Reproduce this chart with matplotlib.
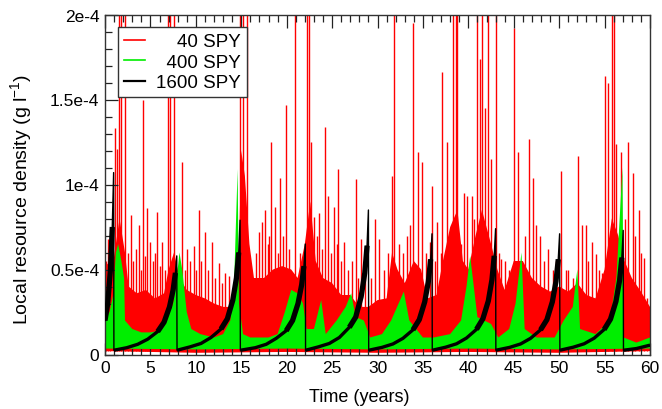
import numpy as np
import matplotlib
matplotlib.use("Agg")
import matplotlib.pyplot as plt
from matplotlib.ticker import MultipleLocator, FixedLocator, FixedFormatter
from matplotlib.lines import Line2D

plt.rcParams['font.family'] = ['Liberation Sans', 'DejaVu Sans']
plt.rcParams['mathtext.fontset'] = 'custom'
plt.rcParams['mathtext.rm'] = 'Liberation Sans'
plt.rcParams['mathtext.default'] = 'regular'

# ---------------- data (values in units of 1e-4 g/l) ----------------
# 40 SPY (red): dense band upper edge, lower edge, and spikes
red_t = [0, 0.8, 1.2, 1.6, 2.2, 2.6, 3.5, 4.5, 5.5, 6.5, 7.0, 7.6, 8.2, 9.0, 10, 11, 12, 13, 14,
         14.7, 15.0, 15.4, 15.9, 16.4, 17.5, 18.5, 19.5, 20.5, 21.2, 22.0, 22.6, 23.2, 24.0, 25.0,
         26.0, 27.0, 28.0, 29.0, 30.0, 31.0, 31.6, 32.2, 33.0, 34.0, 34.8, 35.5, 36.5, 37.2, 38.0,
         38.8, 39.4, 40.0, 40.8, 41.5, 42.5, 43.2, 44.0, 45.0, 46.0, 47.0, 48.0, 49.0, 50.0, 51.0,
         52.0, 53.0, 54.0, 55.0, 55.8, 56.5, 57.2, 58.0, 59.0, 60]
red_hi = [0.55, 0.5, 0.65, 0.8, 0.6, 0.4, 0.36, 0.38, 0.33, 0.36, 0.5, 0.6, 0.45, 0.38, 0.35, 0.33,
          0.3, 0.28, 0.28, 0.5, 1.2, 1.05, 0.65, 0.45, 0.45, 0.5, 0.52, 0.5, 0.45, 0.65, 0.9, 0.55,
          0.45, 0.42, 0.35, 0.35, 0.28, 0.28, 0.32, 0.33, 0.6, 0.5, 0.42, 0.55, 0.5, 0.33, 0.35,
          0.55, 0.75, 0.85, 0.55, 0.5, 0.7, 0.85, 0.65, 0.5, 0.38, 0.55, 0.55, 0.45, 0.4, 0.37, 0.4,
          0.37, 0.42, 0.35, 0.33, 0.5, 0.8, 0.7, 0.55, 0.45, 0.37, 0.28]
red_lo_t = [0, 10, 20, 30, 40, 50, 60]
red_lo = [0.02, 0.01, 0.015, 0.01, 0.015, 0.01, 0.02]
spike_t = [0.3, 0.6, 1.1, 1.28, 1.54, 1.8, 2.17, 2.83, 3.75, 4.15, 4.66, 5.0, 5.76, 6.3, 6.95, 7.15,
           7.6, 8.45, 9.07, 9.8, 10.3, 11.0, 11.75, 12.5, 13.6, 14.9, 15.2, 15.6, 17.25, 17.6, 18.3,
           18.7, 19.3, 19.9, 20.9, 22.2, 22.5, 22.7, 23.05, 23.6, 24.2, 24.6, 25.25, 25.7, 26.35,
           27.6, 28.2, 29.7, 30.2, 31.6, 31.85, 33.6, 33.95, 34.5, 34.9, 35.8, 36.0, 36.6, 37.15,
           37.7, 38.3, 38.6, 38.8, 39.5, 39.9, 40.35, 40.9, 41.3, 41.45, 41.8, 42.2, 42.5, 43.1,
           43.65, 45.05, 45.5, 46.7, 47.1, 47.5, 47.9, 48.8, 50.15, 51.0, 52.1, 52.5, 52.9, 53.6,
           54.0, 55.05, 55.4, 55.8, 56.0, 56.3, 56.8, 57.6, 58.1, 58.8, 59.3,
           0.15, 2.5, 3.1, 3.4, 4.0, 4.4, 5.3, 5.55, 6.1, 6.6, 8.8, 9.4, 10.0, 10.6, 11.3, 12.1,
           12.9, 13.2, 16.6, 16.9, 17.9, 18.0, 19.0, 19.6, 20.3, 21.5, 23.3, 23.9, 24.9, 25.5,
           26.0, 26.7, 27.2, 27.9, 28.6, 29.3, 30.7, 31.2, 32.4, 32.8, 33.3, 35.3, 36.3, 37.0,
           39.2, 40.6, 43.4, 44.0, 44.5, 46.2, 48.3, 49.3, 49.7, 50.7, 51.5, 53.2, 54.4, 54.7,
           57.2, 58.4, 59.0, 59.7]
spike_h = [0.68, 0.62, 1.33, 1.21, 2.05, 2.05, 2.05, 0.82, 0.76, 1.5, 0.86, 0.66, 0.84, 0.66, 2.05,
           2.05, 2.05, 1.13, 0.62, 0.64, 0.85, 0.72, 0.66, 0.54, 0.46, 2.05, 2.05, 2.05, 0.78, 0.85,
           1.25, 0.87, 1.04, 1.47, 2.05, 2.05, 2.05, 1.25, 0.81, 0.83, 1.34, 0.93, 0.87, 1.09, 0.66,
           1.03, 0.68, 0.8, 0.68, 1.05, 2.05, 0.76, 1.95, 1.19, 1.13, 0.66, 0.99, 0.78, 1.66, 1.25,
           2.05, 2.05, 2.05, 0.95, 0.93, 0.93, 2.05, 1.74, 2.05, 1.45, 2.05, 1.15, 2.05, 0.56, 1.92,
           1.19, 1.27, 1.04, 0.76, 0.7, 0.62, 1.08, 0.5, 1.17, 0.76, 0.76, 0.66, 0.59, 1.64, 1.6,
           2.05, 2.05, 1.24, 1.19, 1.25, 1.07, 0.85, 0.57,
           0.55, 0.6, 0.55, 0.62, 0.5, 0.58, 0.55, 0.6, 0.52, 0.5, 0.5, 0.55, 0.5, 0.55, 0.5, 0.45,
           0.42, 0.48, 0.6, 0.72, 0.65, 0.7, 0.6, 0.7, 0.62, 0.6, 0.7, 0.62, 0.6, 0.65,
           0.55, 0.5, 0.55, 0.45, 0.5, 0.45, 0.5, 0.6, 0.65, 0.6, 0.7, 0.6, 0.55, 0.6,
           0.65, 0.8, 0.6, 0.55, 0.5, 0.7, 0.55, 0.5, 0.55, 0.5, 0.45, 0.55, 0.5, 0.48,
           0.8, 0.7, 0.6, 0.33]

# 400 SPY (green): band upper edge and lower edge
green_t = [0, 0.5, 0.9, 1.2, 1.45, 1.8, 2.1, 2.2, 3.0, 4.0, 5.0, 6.0, 6.8, 7.5, 7.9, 8.2, 8.5, 9.0,
           9.5, 10.5, 12, 13, 13.8, 14.2, 14.6, 14.75, 15.2, 16, 18, 19, 19.8, 20.5, 21.2, 21.8,
           22.2, 23.0, 23.8, 24.3, 25.5, 26.5, 27.1, 27.6, 28.5, 29.2, 30.5, 31.5, 32.9, 33.5, 35,
           36.2, 38, 39.2, 39.8, 40.2, 40.6, 41, 42.5, 43.3, 44.5, 45.2, 45.85, 46.2, 47.5, 49.5,
           50.5, 51.5, 52.0, 52.3, 54, 55.6, 56.3, 56.97, 57.1, 58.5, 60]
green_hi = [0.2, 0.25, 0.35, 0.6, 0.65, 0.55, 0.45, 0.2, 0.15, 0.13, 0.13, 0.14, 0.2, 0.3, 0.45,
            0.6, 0.5, 0.25, 0.15, 0.12, 0.1, 0.12, 0.2, 0.4, 1.09, 0.3, 0.12, 0.1, 0.1, 0.12, 0.25,
            0.38, 0.36, 0.3, 0.15, 0.15, 0.32, 0.12, 0.2, 0.28, 0.36, 0.22, 0.2, 0.1, 0.12, 0.2,
            0.37, 0.2, 0.1, 0.1, 0.12, 0.2, 0.4, 0.58, 0.4, 0.22, 0.18, 0.1, 0.15, 0.3, 0.6, 0.15,
            0.1, 0.1, 0.2, 0.28, 0.5, 0.15, 0.12, 0.2, 0.45, 1.1, 0.1, 0.07, 0.1]
green_lo_t = [0, 10, 20, 30, 40, 50, 60]
green_lo = [0.035, 0.03, 0.035, 0.03, 0.035, 0.03, 0.035]

# 1600 SPY (black): slow build-ups followed by sudden drops
black_t = [0, 0.3, 0.6, 0.8, 0.95,
           0.98, 2.4, 3.6, 4.7, 5.8, 6.5, 7.1, 7.5, 7.75, 7.9,
           7.93, 9.37, 10.57, 11.67, 12.77, 13.47, 14.07, 14.47, 14.72, 14.87,
           14.9, 16.55, 17.75, 18.85, 19.95, 20.65, 21.25, 21.65, 21.9, 22.05,
           22.08, 23.5, 24.7, 25.8, 26.9, 27.6, 28.2, 28.6, 28.85, 29.0,
           29.03, 30.5, 31.7, 32.8, 33.9, 34.6, 35.2, 35.6, 35.85, 36.0,
           36.03, 37.5, 38.7, 39.8, 40.9, 41.6, 42.2, 42.6, 42.85, 43.0,
           43.03, 44.55, 45.75, 46.85, 47.95, 48.65, 49.25, 49.65, 49.9, 50.05,
           50.08, 51.55, 52.75, 53.85, 54.95, 55.65, 56.25, 56.65, 56.9, 57.05,
           57.08, 58.5, 60.0]
black_v = [0.2, 0.3, 0.5, 0.75, 1.07,
           0.025, 0.04, 0.06, 0.09, 0.135, 0.19, 0.28, 0.38, 0.48, 0.58,
           0.025, 0.045, 0.065, 0.10, 0.15, 0.21, 0.32, 0.45, 0.6, 0.79,
           0.025, 0.04, 0.06, 0.095, 0.14, 0.2, 0.3, 0.41, 0.52, 0.65,
           0.025, 0.045, 0.065, 0.10, 0.16, 0.22, 0.34, 0.48, 0.64, 0.85,
           0.025, 0.042, 0.062, 0.095, 0.145, 0.205, 0.31, 0.43, 0.56, 0.71,
           0.025, 0.043, 0.063, 0.097, 0.148, 0.21, 0.315, 0.44, 0.58, 0.74,
           0.025, 0.042, 0.062, 0.095, 0.145, 0.205, 0.31, 0.43, 0.56, 0.71,
           0.025, 0.043, 0.063, 0.096, 0.147, 0.208, 0.312, 0.435, 0.57, 0.73,
           0.025, 0.035, 0.055]

x_ticks = [0, 5, 10, 15, 20, 25, 30, 35, 40, 45, 50, 55, 60]
y_ticks = [0, 0.5, 1.0, 1.5, 2.0]
y_tick_labels = ['0', '0.5e-4', '1e-4', '1.5e-4', '2e-4']
series_labels = ['40 SPY', '400 SPY', '1600 SPY']
series_colors = ['#ff0000', '#00ee00', '#000000']

# ---------------- figure ----------------
fig = plt.figure(figsize=(6.62, 4.10), dpi=100)
ax = fig.add_axes([105 / 662, 1 - 355.5 / 410, 545 / 662, 340 / 410])

# red band + spikes
ax.fill(np.r_[red_t, red_lo_t[::-1]], np.r_[red_hi, red_lo[::-1]],
        color=series_colors[0], lw=0, zorder=1)
ax.vlines(spike_t, 0.02, spike_h, color=series_colors[0], lw=1.0, zorder=1)

# green band
ax.fill(np.r_[green_t, green_lo_t[::-1]], np.r_[green_hi, green_lo[::-1]],
        color=series_colors[1], lw=0, zorder=2)

# black: build-ups (thicker near the top), thin drops
bt = np.array(black_t)
bv = np.array(black_v)
breaks = np.where(np.diff(bv) < 0)[0] + 1
for seg_t, seg_v in zip(np.split(bt, breaks), np.split(bv, breaks)):
    if len(seg_t) <= 3:
        ax.plot(seg_t, seg_v, color='black', lw=2.4, solid_capstyle='butt', zorder=3)
        continue
    ax.plot(seg_t[:-1], seg_v[:-1], color='black', lw=2.4, solid_capstyle='butt', zorder=3)
    ax.plot(seg_t[-6:-1], seg_v[-6:-1], color='black', lw=3.8, solid_capstyle='butt', zorder=3)
ax.plot(bt, bv, color='black', lw=1.0, zorder=3)

ax.set_xlim(0, 60)
ax.set_ylim(0, 2.0)
ax.xaxis.set_major_locator(FixedLocator(x_ticks))
ax.xaxis.set_minor_locator(MultipleLocator(1))
ax.yaxis.set_major_locator(FixedLocator(y_ticks))
ax.yaxis.set_major_formatter(FixedFormatter(y_tick_labels))
ax.yaxis.set_minor_locator(MultipleLocator(0.1))
ax.tick_params(which='both', direction='in', top=True, right=False, labelsize=12.5,
               color='#222222', width=0.9)
ax.tick_params(which='major', length=9, pad=4)
ax.tick_params(which='minor', length=5)
for s in ax.spines.values():
    s.set_linewidth(1.0)
    s.set_color('#333333')

ax.set_xlabel('Time (years)', fontsize=13)
ax.xaxis.set_label_coords(0.466, -0.098)
ax.set_ylabel('Local resource density (g l$^{-1}$)', fontsize=14)
ax.yaxis.set_label_coords(-0.13, 0.459)

handles = [Line2D([], [], color=series_colors[0], lw=1.2),
           Line2D([], [], color=series_colors[1], lw=1.2),
           Line2D([], [], color=series_colors[2], lw=1.6)]
labels = ['    ' + series_labels[0], '  ' + series_labels[1], series_labels[2]]
leg = ax.legend(handles, labels, loc='upper left', bbox_to_anchor=(0.0239, 0.962),
                fontsize=13.5, frameon=True, fancybox=False, framealpha=1,
                edgecolor='#333333', handlelength=1.15, handletextpad=0.6,
                borderpad=0.3, labelspacing=0.18, borderaxespad=0)
leg.get_frame().set_linewidth(1.0)
leg.set_zorder(5)

fig.savefig('out.png', dpi=100)
